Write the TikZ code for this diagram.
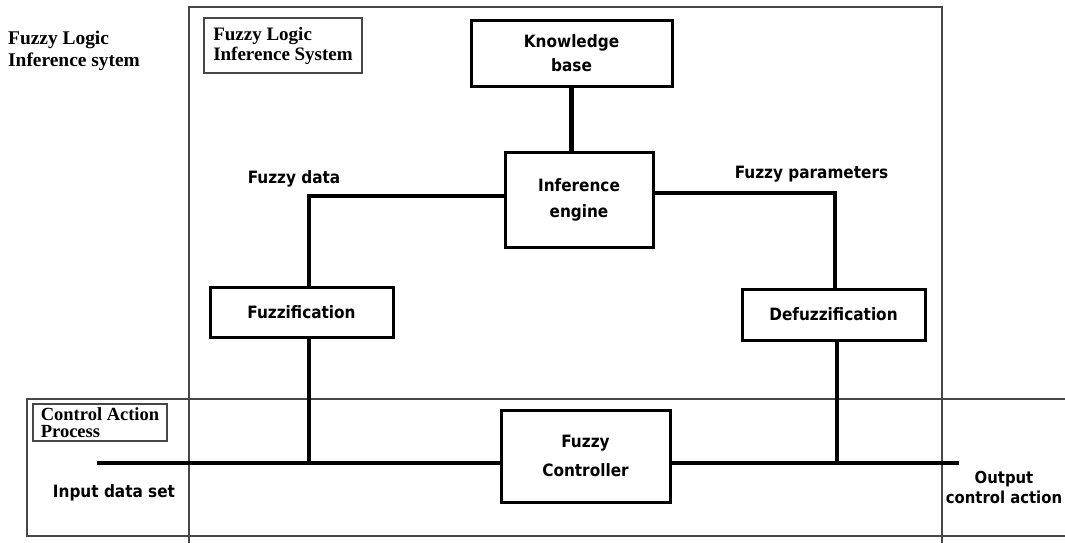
\documentclass[tikz,border=0pt]{standalone}
\usepackage{fontspec}
\setmainfont{Liberation Serif}
\newfontfamily\handfont{DejaVu Sans Condensed}
\begin{document}
\begin{tikzpicture}[x=1pt,y=-1pt,
  frame/.style={draw=black!72, line width=1.3pt},
  tag/.style={draw=black!72, line width=1.2pt, inner sep=0pt, align=left},
  block/.style={draw, line width=3pt, inner sep=0pt, align=center},
  blockfont/.style={font=\handfont\bfseries\fontsize{17}{#1}\selectfont},
  link/.style={line width=4.5pt},
  lbl/.style={font=\handfont\bfseries\fontsize{17}{20}\selectfont, inner sep=0pt}]

\path[use as bounding box] (0,0) rectangle (1065,543);

% outer frames of the two regions
\draw[frame] (189,543) -- (189,7) -- (942,7) -- (942,543);
\draw[frame] (1065,399) -- (27,399) -- (27,536) -- (1065,536);

% region titles
\node[inner sep=0pt, anchor=north west, align=left,
      font=\fontsize{19.4}{22}\selectfont\bfseries] (title) at (8,31)
  {Fuzzy Logic\\Inference sytem};
\node[tag, minimum width=158pt, minimum height=55pt,
      font=\fontsize{19}{20}\selectfont\bfseries] (fistag) at (283,45.5)
  {Fuzzy Logic\\Inference System};
\node[tag, minimum width=134pt, minimum height=37pt,
      font=\fontsize{18.5}{17}\selectfont\bfseries] (captag) at (100,422.5)
  {Control Action\\Process};

% processing blocks
\node[block, blockfont=24, minimum width=201pt, minimum height=65pt] (kb) at (571.5,53.5) {Knowledge\\base};
\node[block, blockfont=26, minimum width=148pt, minimum height=95pt] (ie) at (579,199.5) {Inference\\engine};
\node[block, blockfont=20, minimum width=183pt, minimum height=50pt] (fz) at (301.5,312) {Fuzzification};
\node[block, blockfont=20, minimum width=183pt, minimum height=51pt] (dfz) at (833.5,314.5) {Defuzzification};
\node[block, blockfont=29, minimum width=169pt, minimum height=92pt] (fc) at (585.5,456) {Fuzzy\\Controller};

% junction points of the signal lines
\coordinate (lj) at (309,196);
\coordinate (rj) at (835,193);
\coordinate (dj) at (837,463);
\coordinate (in) at (97,463);
\coordinate (out) at (959,463);

% signal lines
\draw[link] (kb.south) -- (kb.south |- ie.north);
\draw[link] (lj |- fz.north) -- (lj) -- (lj -| ie.west);
\draw[link] (rj |- dfz.north) -- (rj) -- (rj -| ie.east);
\draw[link] (lj |- fz.south) -- (lj |- in);
\draw[link] (dj |- dfz.south) -- (dj);
\draw[link] (in) -- (in -| fc.west);
\draw[link] (out -| fc.east) -- (out);

% line labels
\node[lbl, anchor=base] (fdata) at (294,183) {Fuzzy data};
\node[lbl, anchor=base] (fparam) at (811.5,178) {Fuzzy parameters};
\node[lbl, anchor=base] (input) at (114,497) {Input data set};
\node[lbl, anchor=north, align=center, font=\handfont\bfseries\fontsize{16.5}{20}\selectfont] (output) at (1004,471.5) {Output\\control action};
\end{tikzpicture}
\end{document}
